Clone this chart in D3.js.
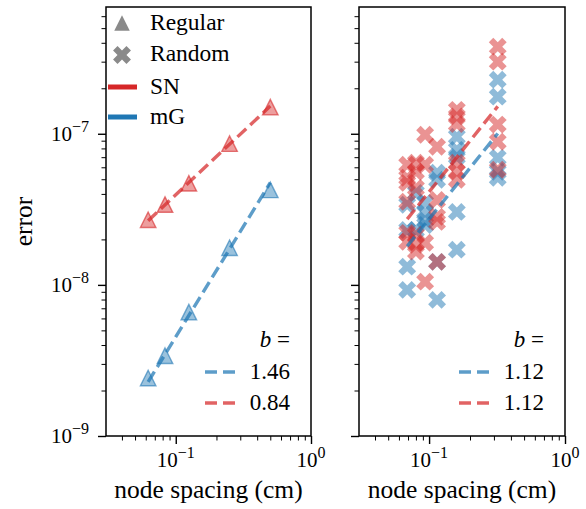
<!DOCTYPE html>
<html><head><meta charset="utf-8">
<script src="https://cdn.jsdelivr.net/npm/d3@7"></script>
<style>
body{margin:0;background:#fff}
svg{display:block}
text{font-family:"Liberation Serif","Times New Roman",serif;fill:#000}
</style>
</head><body><svg id="c" width="586" height="509" font-family="Liberation Serif, Times New Roman, serif"></svg>
<script>
// ---------- data ----------
const regularX   = [0.0625, 0.0833, 0.125, 0.25, 0.5];
const regularSN  = [2.7e-8, 3.4e-8, 4.7e-8, 8.6e-8, 1.5e-7];
const regularMG  = [2.42e-9, 3.4e-9, 6.6e-9, 1.76e-8, 4.25e-8];

const randomSNx = [0.32,0.32,0.32,0.32,0.32, 0.16,0.16,0.16,0.16,0.16,0.16,
  0.1145,0.1145,0.1145,0.1145,0.1145, 0.0935,0.0935,0.0935,0.0935,
  0.080,0.080,0.080,0.080,0.080,0.080, 0.069,0.069,0.069,0.069,0.069,0.069];
const randomSNy = [3.77e-7,3.0e-7,1.15e-7,8.85e-8,5.78e-8, 1.44e-7,1.30e-7,1.16e-7,6.43e-8,5.6e-8,4.96e-8,
  8.2e-8,3.65e-8,2.82e-8,2.61e-8,1.42e-8, 9.85e-8,6.24e-8,1.90e-8,1.05e-8,
  6.43e-8,5.6e-8,4.38e-8,2.14e-8,1.84e-8,1.66e-8, 6.24e-8,5.12e-8,4.73e-8,3.55e-8,2.21e-8,1.93e-8];
const randomMGx = [0.32,0.32,0.32,0.32,0.32, 0.16,0.16,0.16,0.16,0.16,
  0.1145,0.1145,0.1145,0.1145, 0.0935,0.0935,0.0935,0.0935,
  0.080,0.080, 0.069,0.069,0.069,0.069];
const randomMGy = [2.28e-7,1.76e-7,6.93e-8,5.6e-8,5.12e-8, 9.55e-8,7.83e-8,7.05e-8,3.04e-8,1.71e-8,
  5.52e-8,4.96e-8,1.42e-8,7.96e-9, 3.49e-8,3.0e-8,2.69e-8,2.49e-8,
  4.06e-8,2.31e-8, 3.39e-8,2.31e-8,1.32e-8,9.27e-9];

const slopesRegular = [1.46, 0.84];   // mG, SN
const slopesRandom  = [1.12, 1.12];   // mG, SN
const slopeLabelsRegular = ["1.46", "0.84"];
const slopeLabelsRandom  = ["1.12", "1.12"];
const legendLabels = ["Regular", "Random", "SN", "mG"];
const yTicksMajor = [1e-9, 1e-8, 1e-7];
const yTickExps = ["−9", "−8", "−7"];
const xTicksMajor = [0.1, 1];
const xTickExps = ["−1", "0"];

// ---------- style ----------
const RED = "#d62728", BLUE = "#1f77b4", GRAY = "#8a8a8a";
const svg = d3.select("#c");
const yTop = 7, yBot = 436;
const panels = [{x0:106, x1:311}, {x0:359, x1:565}];

const y = d3.scaleLog().domain([1e-9, 6.9e-7]).range([yBot, yTop]);
const xScales = panels.map(p => d3.scaleLog().domain([0.0305, 1]).range([p.x0, p.x1]));

function minorTicks(lo, hi) {
  const out = [];
  for (let e = Math.floor(Math.log10(lo)); e <= Math.ceil(Math.log10(hi)); e++)
    for (let m = 2; m <= 9; m++) { const v = m * Math.pow(10, e); if (v >= lo && v <= hi) out.push(v); }
  return out;
}
const yMinor = minorTicks(1e-9, 6.9e-7);
const xMinor = minorTicks(0.0305, 1);

const triType = { draw(ctx, size) { const r = Math.sqrt(size) / 2; ctx.moveTo(0, -r); ctx.lineTo(r, r); ctx.lineTo(-r, r); ctx.closePath(); } };
const triPath = d3.symbol().type(triType).size(240)();
const xPath = d3.symbol().type(d3.symbolCross).size(200)();

function fitLine(xs, ys, b) {
  const lx = xs.map(Math.log10), ly = ys.map(Math.log10);
  const a = d3.mean(ly) - b * d3.mean(lx);
  const xmin = d3.min(xs), xmax = d3.max(xs);
  return [[xmin, Math.pow(10, a + b * Math.log10(xmin))], [xmax, Math.pow(10, a + b * Math.log10(xmax))]];
}

panels.forEach((p, i) => {
  const x = xScales[i];
  const g = svg.append("g");

  const yAxis = d3.axisLeft(y).tickValues(yTicksMajor).tickSize(8).tickFormat("");
  const yAxisMinor = d3.axisLeft(y).tickValues(yMinor).tickSize(4.5).tickFormat("");
  const xAxis = d3.axisBottom(x).tickValues(xTicksMajor).tickSize(8).tickFormat("");
  const xAxisMinor = d3.axisBottom(x).tickValues(xMinor).tickSize(4.5).tickFormat("");
  [yAxis, yAxisMinor].forEach((ax, k) => {
    const a = g.append("g").attr("transform", `translate(${p.x0},0)`).call(ax);
    a.select(".domain").remove();
    a.selectAll("line").attr("stroke", "#000").attr("stroke-width", k ? 1 : 1.4);
  });
  [xAxis, xAxisMinor].forEach((ax, k) => {
    const a = g.append("g").attr("transform", `translate(0,${yBot})`).call(ax);
    a.select(".domain").remove();
    a.selectAll("line").attr("stroke", "#000").attr("stroke-width", k ? 1 : 1.4);
  });

  xTicksMajor.forEach((v, k) => {
    const t = g.append("text").attr("x", x(v)).attr("y", 467).attr("text-anchor", "middle").style("font-size", "21px");
    t.append("tspan").text("10");
    t.append("tspan").attr("dy", -9).style("font-size", "16px").text(xTickExps[k]);
  });
  g.append("text").attr("x", (p.x0 + p.x1) / 2).attr("y", 498).attr("text-anchor", "middle")
    .style("font-size", "25.5px").text("node spacing (cm)");

  const plot = g.append("g");
  if (i === 0) {
    [[regularMG, BLUE], [regularSN, RED]].forEach(([ys, col]) => {
      plot.selectAll(null).data(regularX.map((xv, j) => [xv, ys[j]])).join("path")
        .attr("d", triPath).attr("transform", d => `translate(${x(d[0])},${y(d[1])})`)
        .attr("fill", col).attr("fill-opacity", 0.45).attr("stroke", col).attr("stroke-opacity", 0.6).attr("stroke-width", 1.4);
    });
    [[regularMG, BLUE, slopesRegular[0]], [regularSN, RED, slopesRegular[1]]].forEach(([ys, col, b]) => {
      plot.append("path").datum(fitLine(regularX, ys, b))
        .attr("d", d3.line().x(d => x(d[0])).y(d => y(d[1])))
        .attr("stroke", col).attr("stroke-opacity", 0.72).attr("stroke-width", 3.4).attr("fill", "none")
        .attr("stroke-dasharray", "12,5.5");
    });
  } else {
    [[randomMGx, randomMGy, BLUE], [randomSNx, randomSNy, RED]].forEach(([xs, ys, col]) => {
      plot.selectAll(null).data(xs.map((xv, j) => [xv, ys[j]])).join("path")
        .attr("d", xPath).attr("transform", d => `translate(${x(d[0])},${y(d[1])}) rotate(45)`)
        .attr("fill", col).attr("fill-opacity", 0.5);
    });
    [[randomMGx, randomMGy, BLUE, slopesRandom[0]], [randomSNx, randomSNy, RED, slopesRandom[1]]].forEach(([xs, ys, col, b]) => {
      plot.append("path").datum(fitLine(xs, ys, b))
        .attr("d", d3.line().x(d => x(d[0])).y(d => y(d[1])))
        .attr("stroke", col).attr("stroke-opacity", 0.72).attr("stroke-width", 3.4).attr("fill", "none")
        .attr("stroke-dasharray", "12,5.5");
    });
  }

  g.append("rect").attr("x", p.x0).attr("y", yTop).attr("width", p.x1 - p.x0).attr("height", yBot - yTop)
    .attr("fill", "none").attr("stroke", "#000").attr("stroke-width", 1.5);

  const lx = p.x1 - 106;
  const labels = i === 0 ? slopeLabelsRegular : slopeLabelsRandom;
  const tt = g.append("text").attr("x", p.x1 - 21).attr("y", 347).attr("text-anchor", "end").style("font-size", "23px");
  tt.append("tspan").style("font-style", "italic").text("b");
  tt.append("tspan").text(" =");
  [BLUE, RED].forEach((col, k) => {
    const yy = 372 + k * 31;
    g.append("line").attr("x1", lx).attr("x2", lx + 32).attr("y1", yy).attr("y2", yy)
      .attr("stroke", col).attr("stroke-opacity", 0.72).attr("stroke-width", 3.4).attr("stroke-dasharray", "12,6");
    g.append("text").attr("x", p.x1 - 21).attr("y", yy + 7).attr("text-anchor", "end").style("font-size", "23px").text(labels[k]);
  });
});

yTicksMajor.forEach((v, k) => {
  const t = svg.append("text").attr("x", 89).attr("y", y(v) + 7).attr("text-anchor", "end").style("font-size", "21px");
  t.append("tspan").text("10");
  t.append("tspan").attr("dy", -9).style("font-size", "16px").text(yTickExps[k]);
});
svg.append("text").attr("transform", `translate(32,${(yTop + yBot) / 2}) rotate(-90)`)
  .attr("text-anchor", "middle").style("font-size", "25.5px").text("error");

const lg = svg.append("g");
lg.append("path").attr("d", triPath).attr("transform", "translate(122,23)").attr("fill", GRAY);
lg.append("path").attr("d", xPath).attr("transform", "translate(122,55) rotate(45)").attr("fill", GRAY);
lg.append("line").attr("x1", 108).attr("x2", 137).attr("y1", 87).attr("y2", 87).attr("stroke", RED).attr("stroke-width", 5);
lg.append("line").attr("x1", 108).attr("x2", 137).attr("y1", 117).attr("y2", 117).attr("stroke", BLUE).attr("stroke-width", 5);
legendLabels.forEach((s, k) => {
  lg.append("text").attr("x", 150).attr("y", [30, 61, 94, 124][k]).style("font-size", "23.5px").text(s);
});
</script>
</body></html>
